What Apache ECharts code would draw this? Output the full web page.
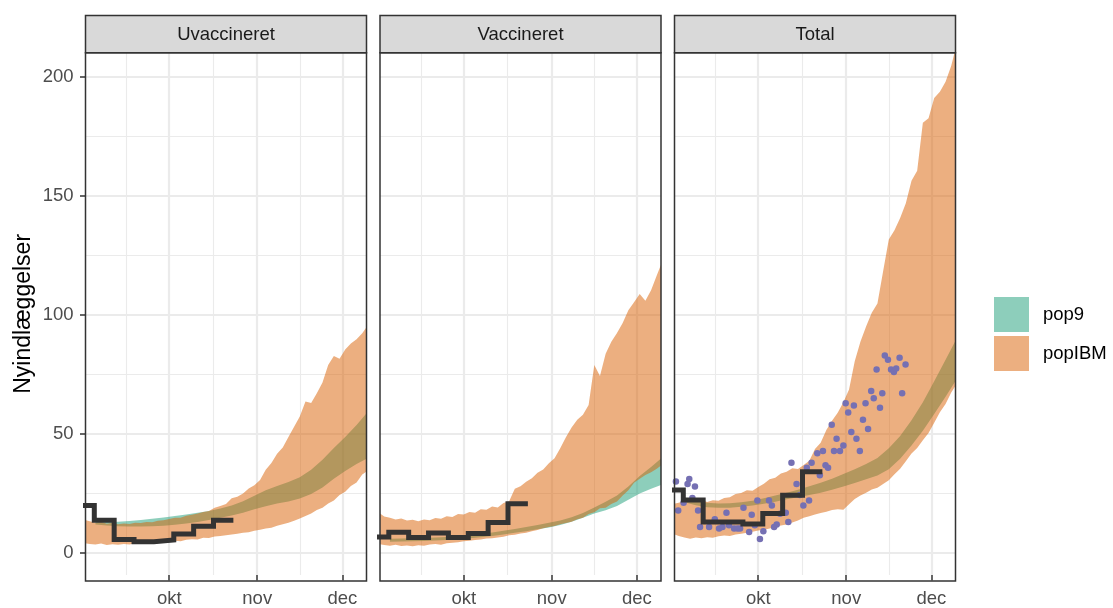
<!DOCTYPE html>
<html><head><meta charset="utf-8">
<script src="https://cdn.jsdelivr.net/npm/echarts@6/dist/echarts.min.js"></script>
<style>html,body{margin:0;padding:0;background:#fff}#c{width:1113px;height:608px}</style>
</head><body><div id="c"></div>
<script>
// ---------- data (x = days since 1 Sep) ----------
const panels = ['Uvaccineret', 'Vaccineret', 'Total'];
const monthTickDays = [30, 61, 91];
const monthTickLabels = ['okt', 'nov', 'dec'];
const minorXDays = [15, 45.5, 76];
const yTicks = [0, 50, 100, 150, 200];
const yMinor = [25, 75, 125, 175];

const bandDays = [0,2,4,6,8,10,12,14,16,18,20,22,24,26,28,30,32,34,36,38,40,42,44,46,48,50,52,54,56,58,60,62,64,66,68,70,72,74,76,78,80,82,84,86,88,90,92,94,96,98,100];
const ibmLowU = [4.0,3.6,3.4,3.8,3.2,3.5,3.3,3.6,3.4,3.9,3.7,4.0,4.2,4.0,4.6,4.5,5.0,4.8,5.4,5.6,5.5,6.2,6.1,6.8,7.0,7.3,7.6,7.9,8.4,8.6,9.2,9.6,10.1,10.5,11.3,11.9,12.6,13.4,14.3,15.4,16.4,17.9,18.8,20.6,21.9,24.2,25.6,28.0,29.5,32.8,34.5];
const ibmHighU = [13.8,13.2,12.6,13.0,12.1,12.5,11.9,12.2,12.0,12.5,12.4,12.9,12.8,13.4,13.6,14.1,14.7,14.6,15.5,15.9,16.4,17.1,17.5,18.8,19.6,20.4,22.8,23.5,24.8,26.9,28.3,30.5,34.8,37.6,41.5,44.2,48.6,52.9,57.2,63.5,62.8,66.9,71.5,78.8,82.6,81.4,85.3,87.8,89.6,92.1,95.5];
const ibmLowV = [3.6,3.2,2.9,3.3,2.8,3.0,2.7,3.1,2.9,3.4,3.6,3.3,3.9,4.1,4.4,4.8,5.0,5.3,5.5,5.9,6.0,6.4,6.7,7.3,7.5,8.0,8.4,9.0,9.5,10.2,10.8,11.2,11.9,12.4,13.0,14.0,14.6,16.2,17.0,18.6,18.8,20.4,21.5,24.0,26.2,29.4,31.0,32.6,33.8,35.2,37.0];
const ibmHighV = [16.8,15.2,14.6,13.9,14.3,13.5,13.8,13.2,13.9,13.6,14.5,14.2,15.3,15.0,16.2,16.0,17.1,16.8,18.2,18.0,19.4,19.0,20.8,21.6,26.8,27.9,29.8,31.2,33.6,34.9,37.5,39.6,43.8,48.5,52.6,55.8,57.9,62.0,78.8,74.2,83.5,88.6,92.3,96.5,101.8,105.2,108.6,105.8,110.2,116.4,122.5];
const ibmLowT = [7.8,7.0,6.4,5.8,6.3,6.0,6.5,6.2,6.9,7.2,7.0,7.6,7.9,8.3,8.8,9.3,9.6,10.1,10.8,11.4,11.8,12.7,13.5,14.6,15.3,16.0,16.6,17.2,17.9,18.2,18.0,20.3,22.5,24.0,25.2,26.5,27.3,28.8,30.4,32.9,35.2,38.4,41.6,44.0,47.2,50.3,54.6,59.0,62.4,67.3,71.0];
const ibmHighT = [20.4,20.9,21.8,22.5,21.6,22.2,21.3,22.0,21.8,22.9,23.3,24.6,25.0,26.2,26.0,27.6,28.9,30.8,31.5,33.2,34.0,35.4,35.1,36.8,38.6,43.5,46.2,51.5,55.4,58.8,63.2,68.5,80.4,88.6,95.0,100.8,104.6,118.2,131.5,135.4,140.6,146.8,156.2,160.4,180.6,182.5,191.0,193.6,197.8,204.5,214.0];

const pop9Days = [4,8,12,16,20,24,28,32,36,40,44,48,52,56,60,64,68,72,76,80,84,88,92,96,100];
const p9LowU = [11.8,11.4,11.1,11.0,11.0,11.1,11.3,11.7,12.2,12.9,13.7,14.6,15.6,16.8,18.2,19.5,20.6,21.5,22.7,24.6,27.4,31.0,34.3,37.2,39.8];
const p9HighU = [13.2,12.9,13.0,13.3,13.7,14.2,14.8,15.4,16.0,16.7,17.5,18.5,19.8,21.6,23.9,26.2,28.0,29.7,31.7,34.8,39.0,44.0,48.6,53.6,59.2];
const p9LowV = [4.6,4.7,4.8,4.9,5.1,5.3,5.6,6.0,6.5,7.0,7.6,8.3,9.0,9.8,10.6,11.6,13.0,14.6,16.4,17.8,19.6,22.2,24.8,26.8,28.6];
const p9HighV = [5.8,5.9,6.0,6.1,6.3,6.6,6.9,7.3,7.9,8.5,9.2,9.9,10.8,11.6,12.5,13.5,14.9,16.6,19.0,21.4,24.0,27.8,32.2,36.0,40.0];
const p9LowT = [21.2,19.9,19.1,18.8,18.9,19.3,19.8,20.5,21.4,22.4,23.3,24.2,25.2,26.4,27.8,29.2,30.8,32.4,35.0,39.4,45.0,51.2,58.2,65.5,73.0];
const p9HighT = [23.2,21.7,20.9,20.6,20.7,21.2,21.8,22.8,24.0,25.2,26.4,27.9,29.4,31.0,33.0,35.0,37.2,39.8,43.8,49.0,55.6,63.2,72.0,81.0,90.2];

const stepDays = [-3.4,3.6,10.6,17.6,24.6,31.6,38.6,45.6,52.6];
const stepU = [19.8,13.6,5.5,4.6,5.3,7.8,11.1,13.6,13.6];
const stepV = [6.6,8.6,6.4,8.2,6.3,8.0,12.7,20.5,20.5];
const stepT = [26.3,22.1,12.9,12.9,12.0,16.4,24.1,34.0,34.0];

const dotDays = [1.0,1.8,3.7,5.1,5.7,6.8,7.7,8.8,9.5,12.7,14.7,16.2,17.4,18.8,19.7,21.5,22.7,23.6,24.8,26.8,27.7,28.8,29.7,30.6,31.8,33.8,34.8,35.6,36.5,37.7,39.7,40.6,41.7,43.5,44.7,45.9,47.1,47.9,48.8,50.8,51.7,52.8,53.7,54.6,55.9,56.7,57.6,58.8,60.0,60.8,61.7,62.8,63.7,64.6,65.8,66.9,67.8,68.7,69.8,70.7,71.7,72.9,73.7,74.6,75.7,76.8,77.8,78.6,79.8,80.7,81.9];
const dotTotal = [29.9,17.7,20.9,28.8,30.9,22.9,27.8,17.7,10.8,10.8,14.0,10.1,10.8,16.8,11.5,10.1,10.1,10.1,18.8,8.7,15.9,11.5,21.9,5.7,9.0,21.9,19.8,10.8,11.8,16.3,16.8,12.9,37.8,28.8,24.2,19.8,35.7,21.9,37.8,41.7,32.5,42.7,36.7,35.7,53.7,42.7,47.8,42.7,45.0,62.7,58.9,50.7,61.8,47.8,42.7,55.8,62.7,51.9,67.9,64.8,76.9,60.9,66.9,82.8,81.0,76.9,75.9,77.3,81.9,66.9,79.0];

// ---------- helpers ----------
const FONT = 'Liberation Sans, Arial, Helvetica, sans-serif';
const COL_P9 = 'rgba(27,158,119,0.5)';
const COL_IBM = 'rgba(217,95,2,0.5)';

const lefts = [85.5, 380, 674.5];
const TOP = 52.7, W = 281, H = 528.3;
const Y_MIN = -9.4, Y_MAX = 210;

const ibmLow = [ibmLowU, ibmLowV, ibmLowT];
const ibmHigh = [ibmHighU, ibmHighV, ibmHighT];
const p9Low = [p9LowU, p9LowV, p9LowT];
const p9High = [p9HighU, p9HighV, p9HighT];
const steps = [stepU, stepV, stepT];

// ribbon drawn as one polygon through the axis scales (api.coord)
function bandSeries(p, name, days, low, high, color) {
  return {
    type: 'custom', name: name, xAxisIndex: 2 * p, yAxisIndex: 2 * p, clip: true, silent: true,
    data: days.map((d, i) => [d, low[i], high[i]]),
    encode: {x: 0, y: [1, 2]},
    itemStyle: {color: color},
    renderItem: function (params, api) {
      if (params.dataIndexInside !== params.dataInsideLength - 1) return null;
      const n = params.dataInsideLength;
      const pts = [];
      for (let j = 0; j < n; j++) pts.push(api.coord([api.value(0, j), api.value(1, j)]));
      for (let j = n - 1; j >= 0; j--) pts.push(api.coord([api.value(0, j), api.value(2, j)]));
      return {type: 'polygon', shape: {points: pts}, style: {fill: color, stroke: null}};
    }
  };
}

const grids = [], xAxes = [], yAxes = [], series = [], graphics = [];
panels.forEach((pname, p) => {
  grids.push({left: lefts[p], top: TOP, width: W, height: H, show: false});
  xAxes.push({type: 'value', gridIndex: p, min: 0.5, max: 99.5, position: 'bottom',
    axisLine: {show: false, onZero: false},
    axisTick: {show: true, customValues: monthTickDays, length: 5.5, lineStyle: {color: '#333333', width: 1.5}},
    axisLabel: {show: true, customValues: monthTickDays, margin: 14, color: '#4D4D4D', fontSize: 18.5, fontFamily: FONT,
      formatter: v => monthTickLabels[monthTickDays.indexOf(v)] || ''},
    splitLine: {show: true, lineStyle: {color: '#EBEBEB', width: 2.2}}});
  xAxes.push({type: 'value', gridIndex: p, min: 0.5, max: 99.5, position: 'bottom',
    axisLine: {show: false, onZero: false},
    axisTick: {show: false, customValues: minorXDays},
    axisLabel: {show: false, customValues: minorXDays},
    splitLine: {show: true, lineStyle: {color: '#EBEBEB', width: 1.1}}});
  yAxes.push({type: 'value', gridIndex: p, min: Y_MIN, max: Y_MAX, position: 'left',
    axisLine: {show: false, onZero: false},
    axisTick: {show: p === 0, customValues: yTicks, length: 5.5, lineStyle: {color: '#333333', width: 1.5}},
    axisLabel: {show: p === 0, customValues: yTicks, margin: 12, color: '#4D4D4D', fontSize: 18.5, fontFamily: FONT},
    splitLine: {show: true, lineStyle: {color: '#EBEBEB', width: 2.2}},
    name: p === 0 ? 'Nyindlæggelser' : '', nameLocation: 'middle', nameGap: 50, nameRotate: 90,
    nameTextStyle: {fontSize: 23, color: '#000000', fontFamily: FONT}});
  yAxes.push({type: 'value', gridIndex: p, min: Y_MIN, max: Y_MAX, position: 'left',
    axisLine: {show: false, onZero: false},
    axisTick: {show: false, customValues: yMinor},
    axisLabel: {show: false, customValues: yMinor},
    splitLine: {show: true, lineStyle: {color: '#EBEBEB', width: 1.1}}});

  series.push(bandSeries(p, 'pop9', pop9Days, p9Low[p], p9High[p], COL_P9));
  series.push(bandSeries(p, 'popIBM', bandDays, ibmLow[p], ibmHigh[p], COL_IBM));
  series.push({type: 'line', xAxisIndex: 2 * p, yAxisIndex: 2 * p, step: 'end', symbol: 'none', silent: true,
    data: stepDays.map((d, i) => [d, steps[p][i]]),
    lineStyle: {color: '#333333', width: 5, join: 'miter', cap: 'butt'}});
  if (p === 2) {
    series.push({type: 'scatter', xAxisIndex: 4, yAxisIndex: 4, symbolSize: 6.5, silent: true,
      data: dotDays.map((d, i) => [d, dotTotal[i]]), itemStyle: {color: '#7570B3', opacity: 1}});
  }

  graphics.push({type: 'rect', z: 100, silent: true, shape: {x: lefts[p], y: 15.5, width: W, height: 37.2},
    style: {fill: '#D9D9D9', stroke: '#333333', lineWidth: 1.5}});
  graphics.push({type: 'text', z: 101, silent: true, x: lefts[p] + W / 2, y: 35.2,
    style: {text: pname, fill: '#1A1A1A', fontSize: 18.5, fontFamily: FONT, align: 'center', verticalAlign: 'middle'}});
  graphics.push({type: 'rect', z: 100, silent: true, shape: {x: lefts[p], y: TOP, width: W, height: H},
    style: {fill: 'none', stroke: '#333333', lineWidth: 1.5}});
});

const chart = echarts.init(document.getElementById('c'), null, {renderer: 'canvas'});
chart.setOption({
  animation: false,
  backgroundColor: '#ffffff',
  grid: grids, xAxis: xAxes, yAxis: yAxes, series: series,
  legend: {data: ['pop9', 'popIBM'], orient: 'vertical', left: 989, top: 292, itemWidth: 35, itemHeight: 35, itemGap: 4,
    icon: 'rect', selectedMode: false, itemStyle: {borderWidth: 0},
    textStyle: {fontSize: 18.5, color: '#000000', fontFamily: FONT, padding: [0, 0, 0, 9]}},
  graphic: graphics
});
</script></body></html>
